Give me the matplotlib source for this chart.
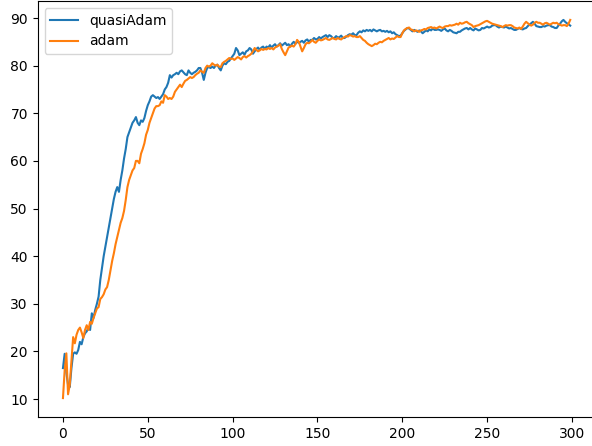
import matplotlib
matplotlib.use("Agg")
import matplotlib.pyplot as plt

# ---- accuracy per epoch ----
quasi_adam = [
    16.5, 19.5, 15.5, 13, 12.5, 16.5, 19.5, 19.8, 19.5, 20.3, 22, 21.5, 23, 23.8, 24.2, 25, 24.5, 28, 27, 28.7,
    30, 31.5, 35, 37.5, 40, 42, 44, 46, 48, 50, 52, 53.5, 54.5, 53.5, 56, 58, 60.5, 62.5, 65, 66,
    67, 68, 68.5, 69.2, 68, 67.5, 68.5, 68.2, 69, 70.5, 71.7, 72.5, 73.5, 73.8, 73.5, 73.2, 73.4, 73, 73.5, 74,
    75, 75.5, 76.4, 78, 77.5, 78, 78.2, 78.5, 78.2, 78.8, 79, 78.6, 78.2, 78, 79, 78.5, 78.2, 78.5, 78.7, 79,
    79.5, 79.5, 78.5, 77, 78.5, 79.5, 79.7, 79.5, 79.8, 79.5, 80, 80.2, 79.5, 79, 80, 80.5, 80.3, 80.8, 81, 81.5,
    82, 82.5, 83.7, 83.2, 82.2, 82.5, 82.8, 82.3, 83, 83.2, 83.7, 83.4, 82.5, 83, 83.5, 83.8, 83.3, 83.8, 84, 83.5,
    84, 83.8, 84.3, 83.8, 84.2, 84.5, 84, 84.3, 84.7, 84.2, 84.5, 84.8, 84.3, 84.5, 84, 84.6, 85, 84.6, 85, 84.8,
    85, 85.2, 84.8, 85.3, 85.5, 85, 85.4, 85.4, 85.8, 85.5, 85.6, 86, 85.7, 86, 86.2, 86.4, 86, 86.4, 86.2, 85.8,
    85.8, 86.2, 85.9, 86, 86.3, 85.8, 85.8, 86.1, 86.4, 86.6, 86.5, 86.8, 86.4, 86.4, 86.9, 87.2, 87, 87.4, 87.2, 87.5,
    87.3, 87.5, 87.2, 87.6, 87.4, 87.2, 87.4, 87.5, 87.2, 87.3, 87.1, 87.3, 87, 87.2, 86.8, 87, 86.6, 86.4, 86.2, 86.3,
    86.8, 87.3, 87.6, 87.9, 87.8, 87.5, 87.2, 87.5, 87.3, 87.1, 87.4, 87.2, 86.8, 87.1, 87.4, 87.2, 87.6, 87.4, 87.8, 87.5,
    87.5, 87.6, 87.5, 87.3, 87.6, 87.8, 87.4, 87.2, 87.5, 87.3, 87, 86.9, 86.8, 87.1, 87.1, 87.4, 87.6, 87.8, 87.9, 87.6,
    87.9, 87.6, 87.4, 87.8, 87.6, 87.4, 87.5, 87.9, 87.8, 88, 88.2, 88, 88.1, 88.4, 88.5, 88.5, 88.2, 88, 88.2, 88.1,
    88, 88.2, 88, 87.8, 87.9, 87.7, 87.5, 87.5, 87.7, 87.9, 87.7, 87.6, 87.8, 87.9, 88.3, 88.6, 88.9, 89.2, 88.8, 88.3,
    88.2, 88.1, 88.1, 88.3, 88.2, 88.4, 88.5, 88.5, 88.2, 88.1, 87.9, 87.9, 88.4, 88.8, 89.3, 89.6, 89.2, 88.9, 88.7, 88.4,
]

adam = [
    10.2, 16, 19.6, 11, 13, 18, 23, 21.7, 23.5, 24.5, 25, 24, 22.8, 24.5, 25.5, 24.5, 26.2, 25.8, 27, 28,
    29, 29.3, 31, 31.4, 32, 33, 33.5, 35, 37, 39, 40.6, 42.5, 44, 45.5, 47, 48, 49.5, 51.8, 54.5, 56,
    57, 58, 58.5, 60, 60, 59.5, 61.5, 62.5, 63.7, 65.5, 66.5, 68, 69, 70, 71, 71.5, 71.5, 71.7, 72.5, 72.2,
    73.8, 73.5, 73, 73.2, 73, 73.5, 74.5, 75, 75.5, 76, 75.5, 76.2, 76.8, 77, 77.3, 77.6, 77.4, 77.6, 78, 78.3,
    78.5, 79, 78.7, 78.5, 79.5, 80, 79.8, 80, 80.5, 80.2, 80, 80.2, 79.8, 79.7, 80.5, 80.8, 81, 81.3, 81.6, 81.4,
    81.5, 81.2, 81.5, 81.8, 81.6, 81.3, 81.8, 82, 81.7, 82, 82.2, 82.5, 83, 83.7, 83.3, 83, 83.2, 83.5, 83.3, 83.5,
    83.4, 83.7, 83.5, 83.7, 83.4, 83.8, 84, 84.2, 84.5, 83.5, 82.8, 82.2, 83, 83.8, 84, 84.2, 84, 84.5, 85.4, 85,
    84, 83, 83.7, 84.5, 84.8, 84.7, 85, 85.4, 85, 84.8, 85.2, 85.5, 85.3, 85.4, 85.6, 85.8, 85.5, 85.4, 85.6, 85.8,
    85.6, 85.5, 85.8, 85.6, 85.5, 85.8, 86, 86.2, 86.1, 86.4, 86.3, 86.1, 86.2, 86, 86, 86.2, 85.8, 85.4, 85.2, 84.8,
    84.5, 84.3, 84.1, 84.3, 84.6, 84.5, 84.8, 85, 84.9, 85.2, 85.4, 85.6, 85.8, 85.5, 85.7, 85.6, 85.9, 86.2, 86, 86,
    86.8, 87.4, 87.7, 87.9, 88, 87.6, 87.5, 87.2, 87.4, 87.3, 87.1, 87.4, 87.5, 87.7, 87.6, 87.9, 88, 88.1, 87.9, 88,
    87.8, 88, 88.2, 88, 87.9, 88.2, 88.3, 88.3, 88.5, 88.4, 88.5, 88.6, 88.8, 88.6, 89, 88.8, 88.9, 89.1, 89.2, 88.9,
    88.7, 88.5, 88.1, 88.3, 88.4, 88.5, 88.7, 88.9, 89.1, 89.3, 89.4, 89.2, 89, 88.8, 88.7, 88.6, 88.5, 88.4, 88.3, 88.1,
    88.3, 88.5, 88.4, 88.5, 88.5, 88.3, 88, 87.9, 87.8, 88, 87.7, 88.2, 88.8, 89.2, 88.9, 88.6, 88.4, 88.6, 89, 89.2,
    89, 89, 88.8, 88.6, 88.9, 89, 88.8, 88.6, 88.8, 89, 88.9, 89, 88.7, 88.6, 88.4, 88.5, 88.5, 88.3, 88.8, 89.6,
]

# ---- plot ----
fig = plt.figure(figsize=(5.92, 4.46), dpi=100)
ax = fig.add_axes([37.6 / 592, 29 / 446, 558 / 592, 416 / 446])
ax.plot(range(len(quasi_adam)), quasi_adam, label="quasiAdam")
ax.plot(range(len(adam)), adam, label="adam")
ax.legend(loc="upper left")
fig.savefig("out.png", dpi=100)
